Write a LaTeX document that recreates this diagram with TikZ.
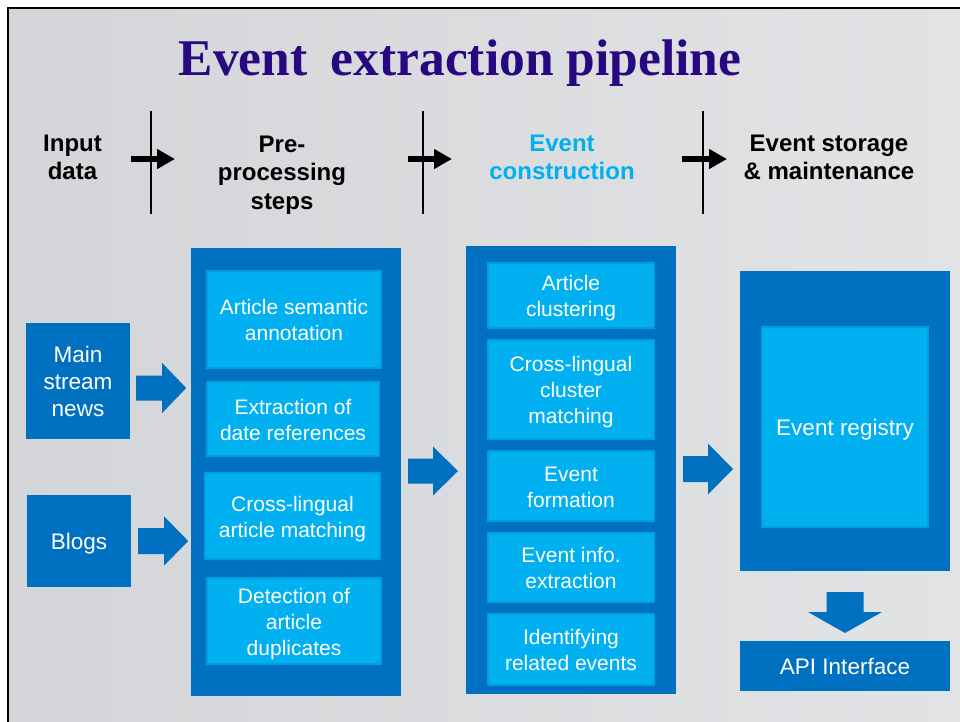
\documentclass[tikz,border=0pt]{standalone}
\usepackage{fontspec}
\setmainfont{Liberation Sans}
\newfontfamily\titlefont{Liberation Serif}
\usetikzlibrary{arrows.meta}
\definecolor{dblue}{RGB}{0,112,192}
\definecolor{lblue}{RGB}{0,176,240}
\definecolor{lbluedge}{RGB}{0,160,222}
\definecolor{titlecol}{RGB}{40,8,128}
\definecolor{slate}{RGB}{212,213,216}
\definecolor{slatelight}{RGB}{226,227,229}
% fixed line metrics so every box centres its text the same way
\newcommand\ftop{\rule{0pt}{22pt}}
\newcommand\fbot{\rule[-5.5pt]{0pt}{0pt}}

\begin{document}
\begin{tikzpicture}[x=1pt,y=-1pt,
  outerbox/.style={fill=dblue, inner sep=0pt, outer sep=0pt},
  stagebox/.style={fill=lblue, draw=lbluedge, line width=2pt, text=white,
    align=center, inner sep=0pt, font=\fontsize{21}{26}\selectfont},
  srcbox/.style={fill=dblue, text=white, align=center, inner sep=0pt,
    font=\fontsize{22.5}{27}\selectfont},
  hdr/.style={align=center, inner sep=0pt, font=\bfseries\fontsize{24}{28.5}\selectfont},
  divider/.style={line width=1.6pt},
  steparrow/.style={line width=6pt, -{Triangle[length=18pt,width=19pt]}},
  pics/blockarrow/.style n args={4}{code={
    \fill[dblue] (0,-#3) -- (#1,-#3) -- (#1,-#4) -- (#2,0) -- (#1,#4) -- (#1,#3) -- (0,#3) -- cycle;}}
]
\useasboundingbox (0,0) rectangle (960,721);
\clip (0,0) rectangle (960,721);

% slide background and frame
\fill[white] (0,0) rectangle (960,721);
\shade[left color=slate, right color=slatelight] (8,8) rectangle (960,721);
\draw[line width=2.6pt] (8,725) -- (8,8) -- (964,8);

% title
\node[anchor=base, text=titlecol, inner sep=0pt,
  font=\titlefont\bfseries\fontsize{51.5}{60}\selectfont] (title) at (460,75)
  {Event\hspace{0.45em}extraction pipeline};

% stage headers
\node[hdr] (hin)  at (72.5,157.6) {Input\\data};
\node[hdr] (hpre) at (282,175)    {Pre-\\processing\\steps};
\node[hdr, text=lblue] (hcon) at (562,157.6) {Event\\construction};
\node[hdr] (hsto) at (829,157.6)  {Event storage\\\& maintenance};

% stage dividers with arrows
\coordinate (d1t) at (151,111); \coordinate (d1b) at (151,214);
\coordinate (d2t) at (423,111); \coordinate (d2b) at (423,214);
\coordinate (d3t) at (703,111); \coordinate (d3b) at (703,214);
\draw[divider] (d1t) -- (d1b);
\draw[divider] (d2t) -- (d2b);
\draw[divider] (d3t) -- (d3b);
\coordinate (s1a) at (131,159); \coordinate (s1b) at (175,159);
\coordinate (s2a) at (408,159); \coordinate (s2b) at (452,159);
\coordinate (s3a) at (682,159); \coordinate (s3b) at (727,159);
\draw[steparrow] (s1a) -- (s1b);
\draw[steparrow] (s2a) -- (s2b);
\draw[steparrow] (s3a) -- (s3b);

% input sources
\node[srcbox, minimum width=104pt, minimum height=116pt] (news)  at (78,381) {\ftop Main\\stream\\news\fbot};
\node[srcbox, minimum width=104pt, minimum height=92pt]  (blogs) at (79,541) {\ftop Blogs\fbot};

% pre-processing
\node[outerbox, minimum width=210pt, minimum height=448pt] (pre) at (296,472) {};
\node[stagebox, minimum width=174pt, minimum height=97pt] (p1) at (294,319.5) {\ftop Article semantic\\annotation\fbot};
\node[stagebox, minimum width=172pt, minimum height=74pt] (p2) at (293,419) {\ftop Extraction of\\date references\fbot};
\node[stagebox, minimum width=175pt, minimum height=86pt] (p3) at (292.5,516) {\ftop Cross-lingual\\article matching\fbot};
\node[stagebox, minimum width=174pt, minimum height=86pt] (p4) at (294,621) {\ftop Detection of\\article\\duplicates\fbot};

% event construction
\node[outerbox, minimum width=210pt, minimum height=448pt] (con) at (571,470) {};
\node[stagebox, minimum width=166pt, minimum height=65pt] (c1) at (571,295.5) {\ftop Article\\clustering\fbot};
\node[stagebox, minimum width=166pt, minimum height=99pt] (c2) at (571,389.5) {\ftop Cross-lingual\\cluster\\matching\fbot};
\node[stagebox, minimum width=166pt, minimum height=70pt] (c3) at (571,486) {\ftop Event\\formation\fbot};
\node[stagebox, minimum width=166pt, minimum height=69pt] (c4) at (571,567.5) {\ftop Event info.\\extraction\fbot};
\node[stagebox, minimum width=166pt, minimum height=71pt] (c5) at (571,649.5) {\ftop Identifying\\related events\fbot};

% storage
\node[outerbox, minimum width=210pt, minimum height=300pt] (sto) at (845,421) {};
\node[stagebox, font=\fontsize{22.5}{27}\selectfont, minimum width=166pt, minimum height=200pt]
  (reg) at (845,427) {\ftop Event registry\fbot};
\node[srcbox, minimum width=210pt, minimum height=50pt] (api) at (845,666) {\ftop API Interface\fbot};

% block arrows between the stages
\pic at ([xshift=6pt,yshift=-7pt]news.east) {blockarrow={26}{50}{12.5}{25}};
\pic at ([xshift=7pt]blogs.east) {blockarrow={26}{50}{13}{24.5}};
\pic at ([xshift=7pt,yshift=1pt]pre.east) {blockarrow={25}{50}{12.5}{24.5}};
\pic at ([xshift=7pt,yshift=1pt]con.east) {blockarrow={25}{50}{13}{25.5}};
\pic[rotate=-90] at ([yshift=-21pt]sto.south) {blockarrow={20}{41}{18.5}{37}};
\end{tikzpicture}
\end{document}
